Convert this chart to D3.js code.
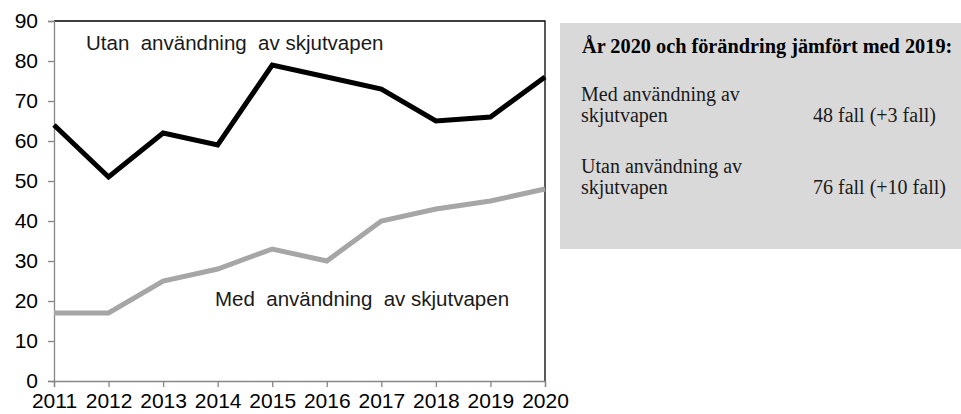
<!DOCTYPE html>
<html>
<head>
<meta charset="utf-8">
<script src="https://cdn.jsdelivr.net/npm/d3@7"></script>
<style>
  body { margin: 0; background: #fff; }
</style>
</head>
<body>
<div id="chart"></div>
<script>
// data
const years = [2011, 2012, 2013, 2014, 2015, 2016, 2017, 2018, 2019, 2020];
const utan = [64, 51, 62, 59, 79, 76, 73, 65, 66, 76];
const med = [17, 17, 25, 28, 33, 30, 40, 43, 45, 48];
const yTicks = [0, 10, 20, 30, 40, 50, 60, 70, 80, 90];

const boxTitle = 'År 2020 och förändring jämfört med 2019:';
const boxRows = [
    { lines: ['Med användning av', 'skjutvapen'], value: '48 fall (+3 fall)' },
    { lines: ['Utan användning av', 'skjutvapen'], value: '76 fall (+10 fall)' }
];

const width = 961,
    height = 414;
const plot = { left: 54, right: 545, top: 21, bottom: 381 };

const svg = d3.select('#chart')
    .append('svg')
    .attr('width', width)
    .attr('height', height);

const x = d3.scalePoint()
    .domain(years)
    .range([plot.left, plot.right]);

const y = d3.scaleLinear()
    .domain([0, 90])
    .range([plot.bottom, plot.top]);

// frame: top and right black
svg.append('path')
    .attr('d', `M${plot.left},${plot.top}H${plot.right}V${plot.bottom}`)
    .attr('fill', 'none')
    .attr('stroke', '#000')
    .attr('stroke-width', 1.3);

// y axis
const yAxis = svg.append('g')
    .attr('transform', `translate(${plot.left},0)`)
    .call(d3.axisLeft(y).tickValues(yTicks).tickSize(6).tickPadding(10));

// x axis
const xAxis = svg.append('g')
    .attr('transform', `translate(0,${plot.bottom})`)
    .call(d3.axisBottom(x).tickSize(6).tickPadding(6).tickFormat(d3.format('d')));

[yAxis, xAxis].forEach(function (g) {
    g.select('.domain').attr('stroke', '#868686').attr('stroke-width', 1.3);
    g.selectAll('.tick line').attr('stroke', '#868686').attr('stroke-width', 1.3);
    g.selectAll('.tick text')
        .attr('font-family', '"Liberation Sans", Arial, sans-serif')
        .attr('font-size', '21px')
        .attr('fill', '#000');
});

const line = d3.line()
    .x((d, i) => x(years[i]))
    .y(d => y(d));

svg.append('path')
    .datum(med)
    .attr('d', line)
    .attr('fill', 'none')
    .attr('stroke', '#a6a6a6')
    .attr('stroke-width', 5);

svg.append('path')
    .datum(utan)
    .attr('d', line)
    .attr('fill', 'none')
    .attr('stroke', '#000')
    .attr('stroke-width', 5);

// series labels
svg.append('text')
    .attr('x', 86)
    .attr('y', 50)
    .attr('font-family', '"Liberation Sans", Arial, sans-serif')
    .attr('font-size', '20.5px')
    .attr('fill', '#1a1a1a')
    .attr('xml:space', 'preserve')
    .text('Utan  användning  av skjutvapen');

svg.append('text')
    .attr('x', 215)
    .attr('y', 306)
    .attr('font-family', '"Liberation Sans", Arial, sans-serif')
    .attr('font-size', '20.5px')
    .attr('fill', '#1a1a1a')
    .attr('xml:space', 'preserve')
    .text('Med  användning  av skjutvapen');

// info box
const box = svg.append('g');
box.append('rect')
    .attr('x', 560)
    .attr('y', 23)
    .attr('width', width - 560)
    .attr('height', 226)
    .attr('fill', '#d9d9d9');

const serif = '"Liberation Serif", "Times New Roman", serif';
box.append('text')
    .attr('x', 582)
    .attr('y', 53)
    .attr('font-family', serif)
    .attr('font-size', '20.3px')
    .attr('font-weight', 'bold')
    .attr('fill', '#000')
    .text(boxTitle);

boxRows.forEach(function (r, i) {
    const y0 = 101 + i * 72;
    r.lines.forEach(function (t, j) {
        box.append('text')
            .attr('x', 581)
            .attr('y', y0 + j * 21)
            .attr('font-family', serif)
            .attr('font-size', '20px')
            .attr('fill', '#1a1a1a')
            .text(t);
    });
    box.append('text')
        .attr('x', 813)
        .attr('y', y0 + 21)
        .attr('font-family', serif)
        .attr('font-size', '20px')
        .attr('fill', '#1a1a1a')
        .text(r.value);
});
</script>
</body>
</html>
